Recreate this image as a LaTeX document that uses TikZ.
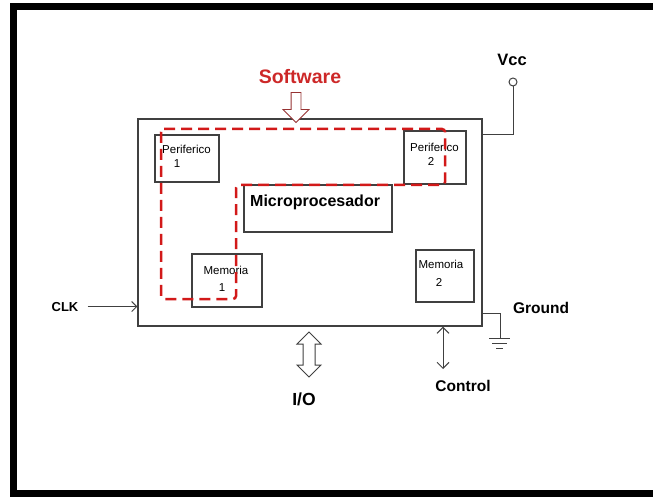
\documentclass[tikz,border=0pt]{standalone}
\usepackage{fontspec}
\setmainfont{Liberation Sans}
\usetikzlibrary{arrows.meta,shapes.arrows,calc}

\definecolor{pathred}{RGB}{210,25,25}
\definecolor{swred}{RGB}{205,40,40}
\definecolor{arrowred}{RGB}{150,50,50}

\begin{document}
\begin{tikzpicture}[x=1pt,y=-1pt,
    block/.style={draw=black!75, line width=1.2pt, fill=white, inner sep=0pt},
    small/.style={font=\fontsize{11.5}{13}\selectfont, inner sep=0pt, anchor=base},
    lbl/.style={font=\fontsize{15.5}{17}\selectfont\bfseries, inner sep=0pt, anchor=base},
    wire/.style={draw=black!75, line width=1pt},
    every node/.style={inner sep=0pt}
]

\useasboundingbox (0,0) rectangle (653,497);

% frame
\fill[black] (10,3) rectangle (653,10);
\fill[black] (10,3) rectangle (17,497);
\fill[black] (10,490) rectangle (653,497);

% chip and its blocks
\node[block, minimum width=344, minimum height=207] (chip) at (310,222.5) {};
\node[block, minimum width=64, minimum height=47] (per1) at (187,158.5) {};
\node[block, minimum width=62, minimum height=53] (per2) at (435,157.5) {};
\node[block, minimum width=148, minimum height=47] (micro) at (318,208.5) {};
\node[block, minimum width=70, minimum height=53] (mem1) at (227,280.5) {};
\node[block, minimum width=58, minimum height=52] (mem2) at (445,276) {};

\node[small, anchor=base west] (per1a) at (162,154) {Periferico};
\node[small] (per1b) at (177,168) {1};
\node[small, anchor=base west] (per2a) at (410,152) {Periferico};
\node[small] (per2b) at (431,166) {2};
\node[small] (mem1a) at (226,274) {Memoria};
\node[small] (mem1b) at (222,291) {1};
\node[small] (mem2a) at (441,268) {Memoria};
\node[small] (mem2b) at (439,286) {2};
\node[lbl, anchor=base west, font=\fontsize{16}{18}\selectfont\bfseries] (microtxt) at (250,207) {Microprocesador};

% software
\node[lbl, text=swred, font=\fontsize{19.5}{22}\selectfont\bfseries] (sw) at (300,84) {Software};
\node[single arrow, draw=arrowred, fill=white, line width=0.8pt, shape border rotate=270,
      inner sep=4.5pt, minimum height=30, single arrow head extend=8] (swarrow) at (296,105) {};

% Vcc
\node[lbl, font=\fontsize{16.5}{18}\selectfont\bfseries] (vcc) at (512,66) {Vcc};
\node[circle, draw=black!75, line width=1pt, fill=white, minimum size=8] (vccpin) at (513,82) {};
\draw[wire] (vccpin.south) |- ($(chip.north east)+(0,16)$);

% Ground
\node[lbl] (gndtxt) at (541,313) {Ground};
\coordinate (gnd) at (500,338);
\draw[wire] ($(chip.north east)+(0,195)$) -| (gnd);
\draw[wire] ($(gnd)+(-11,0)$) -- ($(gnd)+(10,0)$);
\draw[wire] ($(gnd)+(-8,5)$) -- ($(gnd)+(7,5)$);
\draw[wire] ($(gnd)+(-4,10)$) -- ($(gnd)+(3,10)$);

% CLK
\node[lbl, font=\fontsize{13}{15}\selectfont\bfseries] (clk) at (65,311) {CLK};
\draw[wire, -{Straight Barb[length=5pt,width=10pt]}] ([xshift=9pt]clk.east) -- (clk.east -| chip.west);

% I/O
\node[double arrow, draw=black!75, fill=white, line width=1pt, shape border rotate=90,
      inner sep=5.5pt, minimum height=45, double arrow head extend=6] (io) at (309,354.5) {};
\node[lbl, font=\fontsize{17.5}{19}\selectfont\bfseries] (iotxt) at (304,405) {I/O};

% Control
\node[lbl] (ctrltxt) at (463,391) {Control};
\coordinate (ctrl) at (443,369);
\draw[wire, {Straight Barb[length=6pt,width=12pt]}-{Straight Barb[length=6pt,width=12pt]}] (ctrl |- chip.south) -- (ctrl);

% software path
\draw[pathred, line width=2.5pt, dash pattern=on 11pt off 6pt, rounded corners=3pt]
    (161,129) -- (445,129) -- (445,185) -- (236,185) -- (236,299) -- (161,299) -- cycle;

\end{tikzpicture}
\end{document}
